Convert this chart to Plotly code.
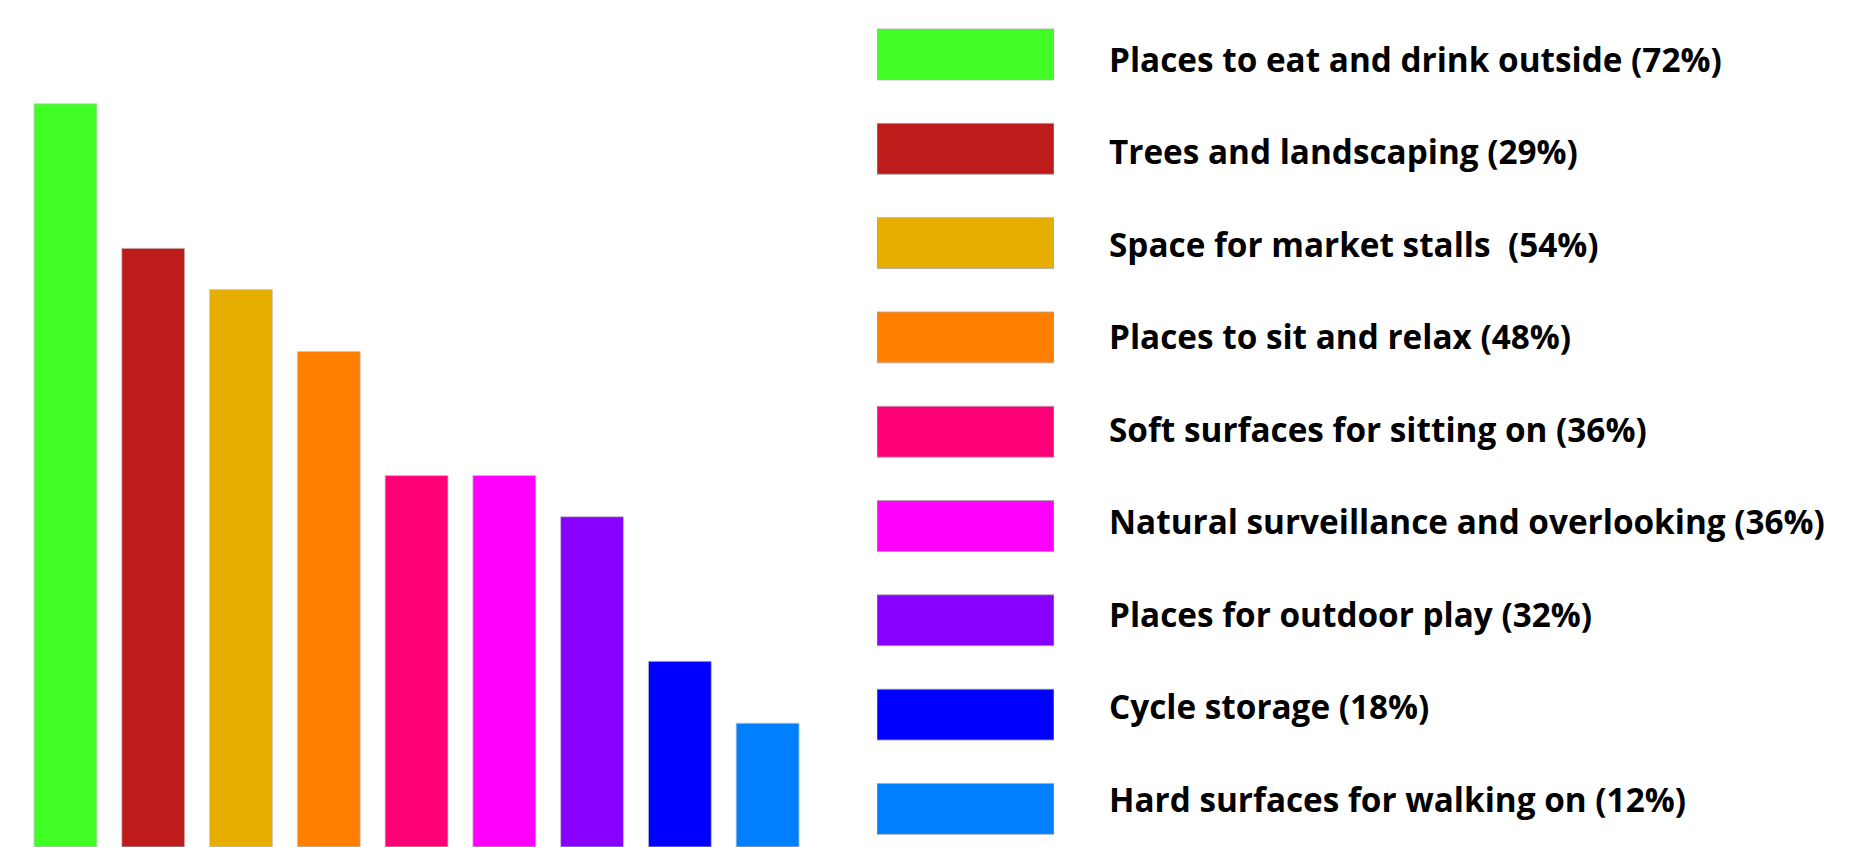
import plotly.graph_objects as go

categories = [
    "Places to eat and drink outside",
    "Trees and landscaping",
    "Space for market stalls",
    "Places to sit and relax",
    "Soft surfaces for sitting on",
    "Natural surveillance and overlooking",
    "Places for outdoor play",
    "Cycle storage",
    "Hard surfaces for walking on",
]
bar_values = [72, 58, 54, 48, 36, 36, 32, 18, 12]
legend_labels = [
    "Places to eat and drink outside (72%)",
    "Trees and landscaping (29%)",
    "Space for market stalls  (54%)",
    "Places to sit and relax (48%)",
    "Soft surfaces for sitting on (36%)",
    "Natural surveillance and overlooking (36%)",
    "Places for outdoor play (32%)",
    "Cycle storage (18%)",
    "Hard surfaces for walking on (12%)",
]
colors = ["#41FF26", "#BE1B1B", "#E5AE00", "#FF8000", "#FF0077",
          "#FF00FF", "#8800FF", "#0000FF", "#0080FF"]

# page body has an 8px margin, so the figure is slightly smaller
W, H = 1863, 839
fig = go.Figure()

fig.add_trace(go.Bar(
    x=categories, y=bar_values,
    marker=dict(color=colors, line=dict(color="rgba(200,200,200,0.8)", width=1)),
    xaxis="x", yaxis="y", showlegend=False, hoverinfo="x+y",
))

# legend swatches as horizontal bars on a second subplot
fig.add_trace(go.Bar(
    x=[1] * len(categories), y=legend_labels, orientation="h",
    width=0.54,
    marker=dict(color=colors, line=dict(color="rgba(170,170,170,0.8)", width=1)),
    xaxis="x2", yaxis="y2", showlegend=False, hoverinfo="y",
))

# invisible helper trace so the label axis (y3) exists
fig.add_trace(go.Scatter(
    x=[1] * len(legend_labels), y=legend_labels, mode="markers",
    marker=dict(opacity=0), xaxis="x2", yaxis="y3",
    showlegend=False, hoverinfo="skip",
))

annotations = [
    dict(text=lab, x=1, y=lab, xref="x2", yref="y3", xanchor="left",
         yanchor="middle", xshift=53, showarrow=False,
         font=dict(family="Open Sans", size=33.3, color="black", weight="bold"))
    for lab in legend_labels
]

fig.update_layout(
    width=W, height=H,
    margin=dict(l=0, r=0, t=0, b=0),
    paper_bgcolor="white", plot_bgcolor="white",
    bargap=0.283,
    xaxis=dict(domain=[13.6 / W, 803.5 / W], visible=False, fixedrange=True),
    yaxis=dict(domain=[0, 1], range=[0, 81.28], visible=False, fixedrange=True),
    xaxis2=dict(domain=[869 / W, 1046 / W], range=[0, 1], visible=False,
                anchor="y2", fixedrange=True),
    yaxis2=dict(domain=[0, 1], anchor="x2", range=[8.404, -0.493],
                visible=False, fixedrange=True),
    yaxis3=dict(domain=[0, 1], anchor="x2", overlaying="y2",
                range=[8.519, -0.551], visible=False, fixedrange=True),
    annotations=annotations,
    font=dict(family="Open Sans"),
)

fig.write_html("out.html")
